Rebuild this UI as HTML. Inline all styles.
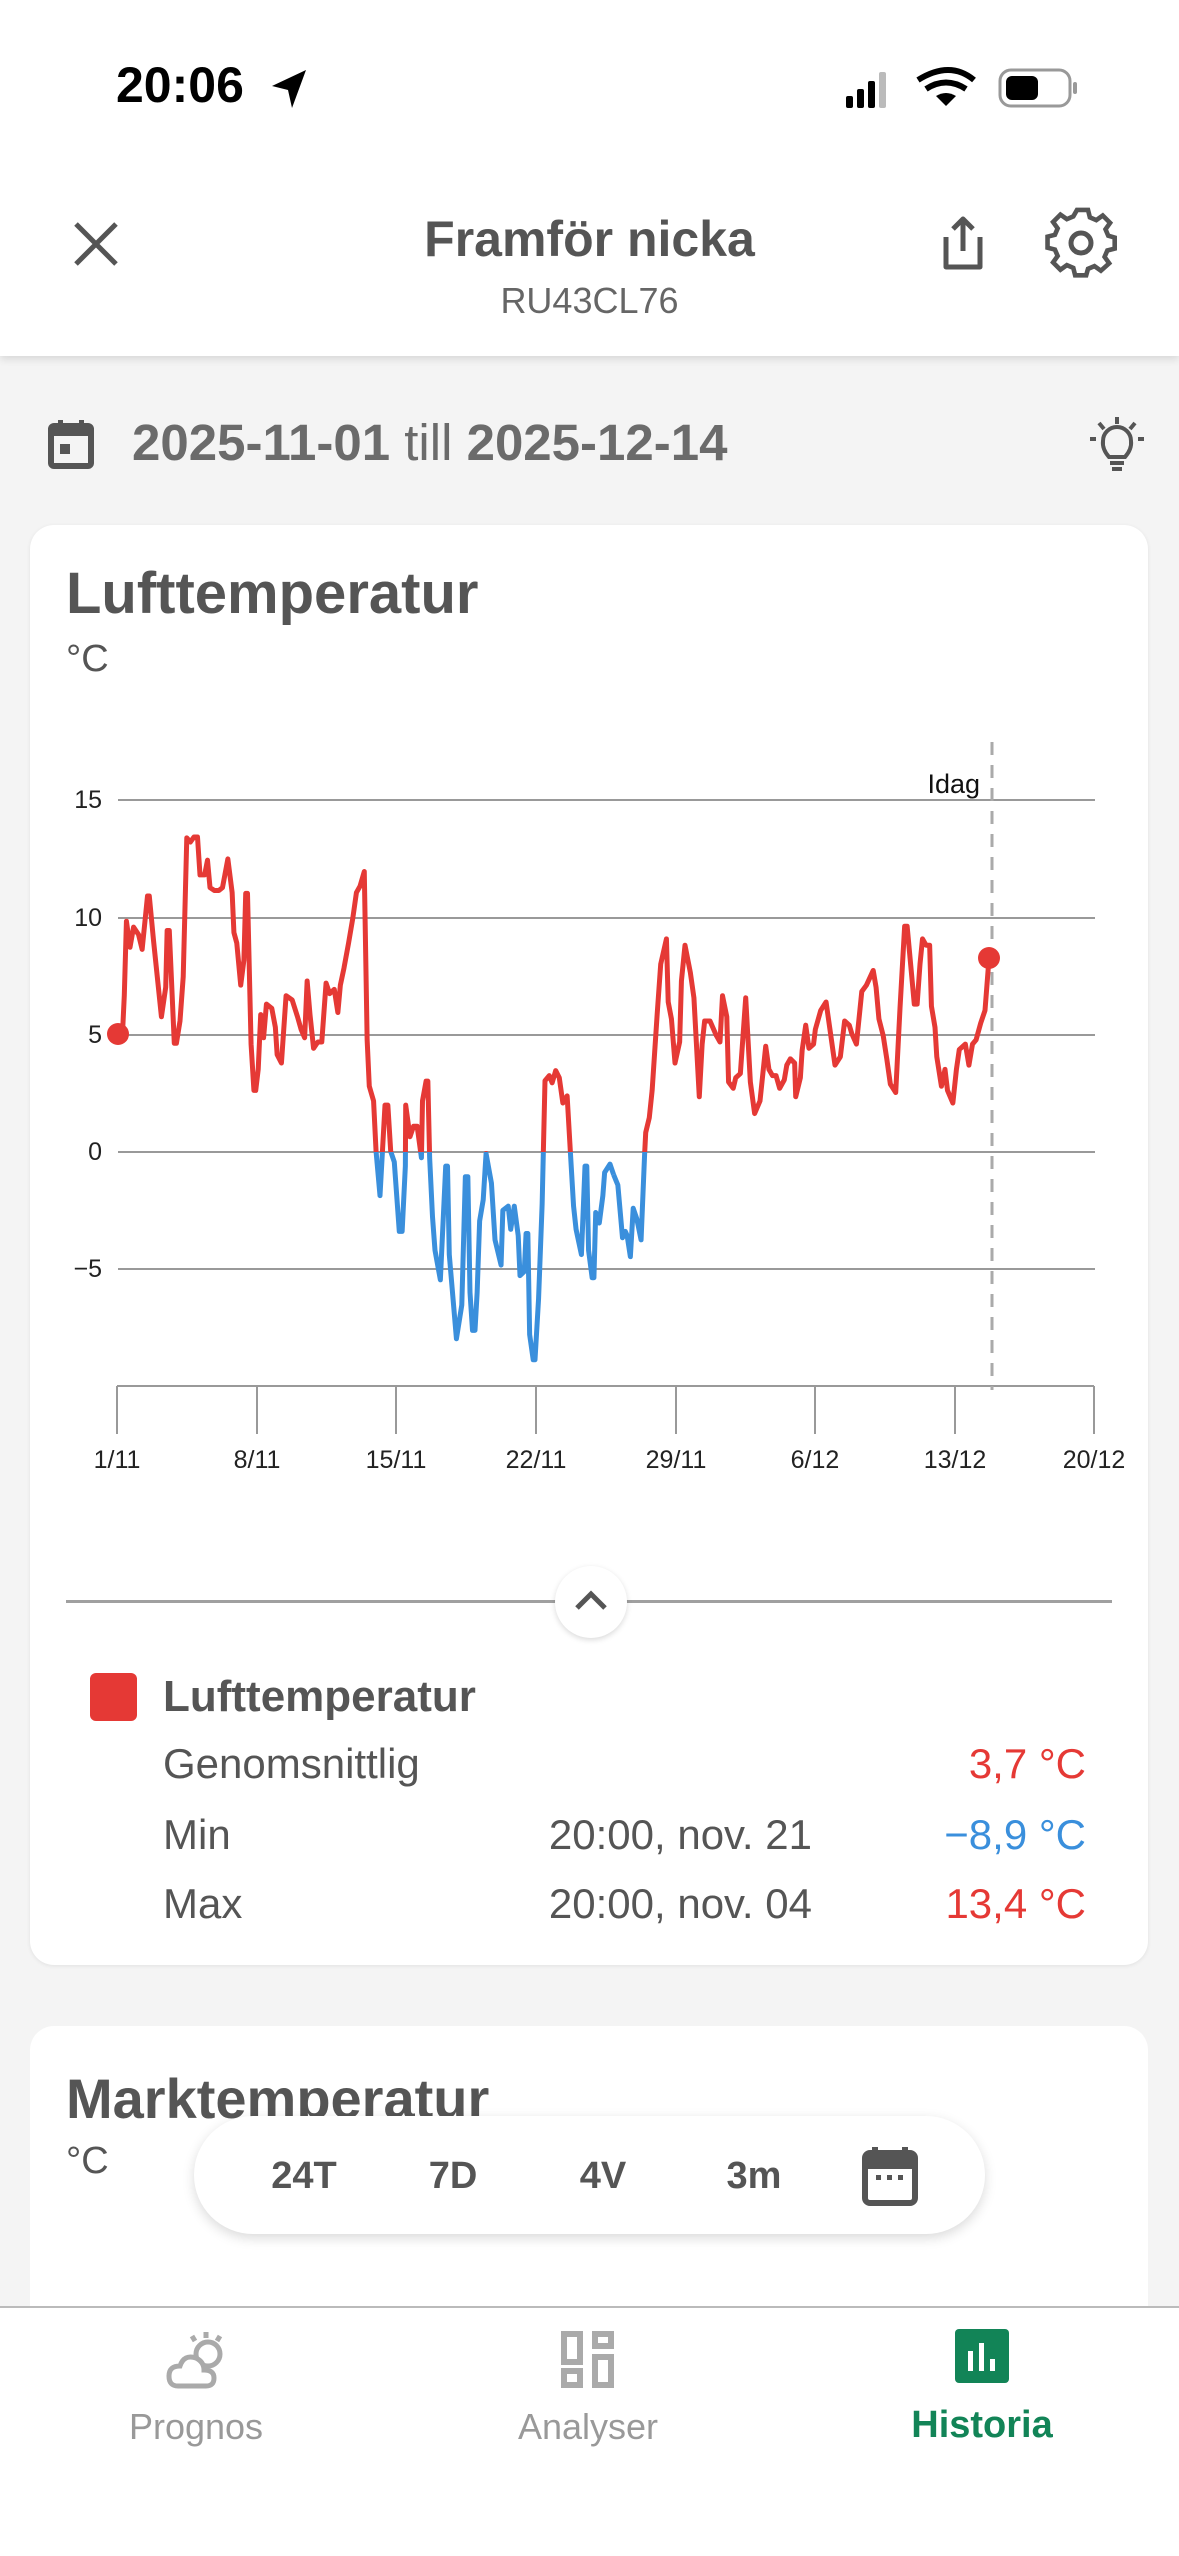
<!DOCTYPE html>
<html><head><meta charset="utf-8"><style>
*{margin:0;padding:0;box-sizing:border-box}
body{width:1179px;height:2556px;background:#f4f4f4;font-family:"Liberation Sans",sans-serif;position:relative;overflow:hidden;color:#555}
.a{position:absolute;white-space:nowrap}
</style></head><body>
<div class="a" style="left:0;top:0;width:1179px;height:356px;background:#fff;box-shadow:0 3px 8px rgba(0,0,0,0.12)"></div>
<div class="a" style="left:116px;top:56px;font-size:50px;font-weight:bold;color:#000">20:06</div>
<svg class="a" style="left:270px;top:68px" width="40" height="42" viewBox="0 0 40 42"><path d="M36 2 L2 18 L18 22 L22 40 Z" fill="#000"/></svg>
<svg class="a" style="left:840px;top:66px" width="250" height="46" viewBox="0 0 250 46">
<rect x="6" y="30" width="7" height="12" rx="2" fill="#000"/><rect x="17" y="23" width="7" height="19" rx="2" fill="#000"/><rect x="28" y="15" width="7" height="27" rx="2" fill="#000"/><rect x="39" y="6" width="7" height="36" rx="2" fill="#bbb"/>
<path d="M78 14 Q110 -6 134 14" stroke="#000" stroke-width="6" fill="none"/><path d="M86 23 Q106 10 126 23" stroke="#000" stroke-width="6" fill="none"/><path d="M106 40 L96 30 Q106 24 116 30 Z" fill="#000"/>
<rect x="160" y="4" width="70" height="36" rx="11" fill="none" stroke="#999" stroke-width="3"/><rect x="166" y="10" width="32" height="24" rx="6" fill="#000"/><rect x="233" y="16" width="4" height="12" rx="2" fill="#999"/></svg>
<svg class="a" style="left:72px;top:220px" width="50" height="50"><path d="M4 4 L44 44 M44 4 L4 44" stroke="#555" stroke-width="5"/></svg>
<div class="a" style="left:0;width:1179px;top:210px;text-align:center;font-size:50px;font-weight:bold;color:#555">Framför nicka</div>
<div class="a" style="left:0;width:1179px;top:280px;text-align:center;font-size:36px;color:#666">RU43CL76</div>
<svg class="a" style="left:936px;top:215px" width="54" height="60"><path d="M10 22 V52 H44 V22 M27 36 V4 M17 14 L27 4 L37 14" stroke="#555" stroke-width="5" fill="none" stroke-linejoin="round"/></svg>
<svg class="a" style="left:1045px;top:207px" width="72" height="72" viewBox="-36 -36 72 72"><g stroke="#555" stroke-width="5" fill="none"><path d="M-6 -31 L6 -31 L8 -23 L15 -20 L22 -25 L30 -17 L25 -10 L28 -3 L35 -1 L35 11 L27 13 L24 20 L29 27 L20 35 L13 30 L6 33 L4 40 L-8 40 L-10 32 L-17 29 L-24 34 L-32 26 L-27 19 L-30 12 L-38 10 L-38 -2 L-30 -4 L-27 -11 L-32 -18 L-24 -26 L-17 -21 L-10 -24 Z" transform="translate(1.5,-4.5) scale(0.92)"/><circle cx="0" cy="0" r="10"/></g></svg>
<svg class="a" style="left:48px;top:418px" width="48" height="52"><rect x="3" y="8" width="40" height="40" rx="3" fill="none" stroke="#555" stroke-width="6"/><rect x="3" y="8" width="40" height="10" fill="#555"/><rect x="10" y="2" width="5" height="10" fill="#555"/><rect x="31" y="2" width="5" height="10" fill="#555"/><rect x="12" y="26" width="10" height="10" fill="#555"/></svg>
<div class="a" style="left:132px;top:413px;font-size:51px;color:#6b6b6b"><b>2025-11-01</b> till <b>2025-12-14</b></div>
<svg class="a" style="left:1085px;top:415px" width="64" height="60"><g stroke="#555" stroke-width="4" fill="none"><path d="M32 2 V9 M14 8 L19 14 M50 8 L45 14 M5 24 H11 M53 24 H59"/><path d="M24 42 Q17 34 18 26 A14 14 0 0 1 46 26 Q47 34 40 42 Z"/><path d="M25 48 H39 M27 54 H37"/></g></svg>

<div class="a" style="left:30px;top:525px;width:1118px;height:1440px;background:#fff;border-radius:24px;box-shadow:0 1px 4px rgba(0,0,0,0.08)"></div>
<div class="a" style="left:66px;top:560px;font-size:58px;font-weight:bold;color:#555">Lufttemperatur</div>
<div class="a" style="left:66px;top:638px;font-size:38px;color:#555">°C</div>

<svg class="a" style="left:0;top:0" width="1179" height="1500">
<g stroke="#999" stroke-width="2">
<line x1="118" y1="800" x2="1095" y2="800"/><line x1="118" y1="918" x2="1095" y2="918"/><line x1="118" y1="1035" x2="1095" y2="1035"/><line x1="118" y1="1152" x2="1095" y2="1152"/><line x1="118" y1="1269" x2="1095" y2="1269"/>
<line x1="117" y1="1386" x2="1094" y2="1386"/>
<line x1="117" y1="1386" x2="117" y2="1434"/><line x1="257" y1="1386" x2="257" y2="1434"/><line x1="396" y1="1386" x2="396" y2="1434"/><line x1="536" y1="1386" x2="536" y2="1434"/><line x1="676" y1="1386" x2="676" y2="1434"/><line x1="815" y1="1386" x2="815" y2="1434"/><line x1="955" y1="1386" x2="955" y2="1434"/><line x1="1094" y1="1386" x2="1094" y2="1434"/>
</g>
<line x1="992" y1="742" x2="992" y2="1390" stroke="#aaa" stroke-width="3" stroke-dasharray="13,10"/>
<g font-size="25" fill="#222" text-anchor="end">
<text x="102" y="808">15</text><text x="102" y="926">10</text><text x="102" y="1043">5</text><text x="102" y="1160">0</text><text x="102" y="1277">−5</text>
</g>
<text x="980" y="793" font-size="27" fill="#111" text-anchor="end">Idag</text>
<g font-size="25" fill="#222" text-anchor="middle">
<text x="117" y="1468">1/11</text><text x="257" y="1468">8/11</text><text x="396" y="1468">15/11</text><text x="536" y="1468">22/11</text><text x="676" y="1468">29/11</text><text x="815" y="1468">6/12</text><text x="955" y="1468">13/12</text><text x="1094" y="1468">20/12</text>
</g>
<defs>
<clipPath id="top"><rect x="0" y="0" width="1179" height="1152"/></clipPath>
<clipPath id="bot"><rect x="0" y="1152" width="1179" height="400"/></clipPath>
<g id="ln" fill="none" stroke-width="5" stroke-linejoin="round">
<polyline vector-effect="non-scaling-stroke" transform="translate(60,720) scale(0.35714,0.42092)" points="162,745 175,745 180,655 186,478 196,540 206,492 220,510 230,545 245,418 250,418 262,525 284,705 296,635 300,500 306,500 320,768 326,768 336,715 345,610 355,280 365,290 375,278 385,278 392,368 405,368 413,333 420,398 432,405 445,405 455,398 470,330 482,410 487,505 495,530 506,630 515,570 520,412 525,412 535,770 543,880 548,880 555,830 562,700 570,755 578,675 593,685 603,730 608,795 620,815 633,655 650,665 665,705 675,735 685,755 692,620 700,700 710,780 722,765 733,765 745,625 755,650 768,640 778,695 785,630 795,590 808,530 820,470 830,410 840,395 852,360 860,760 866,870 878,905 885,1025 896,1130 910,915 918,915 926,1025 936,1050 950,1215 958,1215 967,1060 968,915 980,990 990,965 1000,965 1012,1040 1015,905 1025,858 1030,858 1035,1040 1043,1180 1050,1260 1065,1330 1080,1060 1085,1060 1090,1270 1110,1470 1125,1390 1135,1085 1142,1085 1148,1360 1155,1450 1162,1450 1168,1360 1175,1190 1185,1140 1193,1030 1208,1100 1218,1235 1235,1295 1240,1165 1255,1155 1262,1210 1272,1155 1283,1225 1288,1320 1300,1310 1305,1220 1310,1220 1315,1460 1325,1520 1330,1520 1340,1375 1350,1150 1358,857 1370,845 1378,862 1388,833 1398,850 1408,910 1420,893 1430,1040 1438,1155 1445,1210 1460,1270 1470,1060 1475,1060 1480,1260 1490,1325 1495,1325 1500,1170 1510,1195 1520,1130 1525,1075 1540,1055 1550,1080"/>
<polyline vector-effect="non-scaling-stroke" transform="translate(560,720) scale(0.35714,0.42092)" points="150,1080 162,1105 175,1230 183,1215 188,1225 197,1275 205,1160 215,1185 227,1235 237,1030 240,980 250,945 258,880 265,790 272,700 282,580 298,520 303,670 312,710 322,815 335,765 340,620 350,535 365,600 375,660 382,770 390,895 398,770 405,715 420,715 438,750 448,765 455,655 467,705 472,860 485,875 492,850 505,840 520,660 533,860 545,935 560,905 568,840 576,775 585,830 595,845 605,845 615,875 628,855 635,820 645,805 657,815 660,895 673,850 678,785 688,725 697,780 710,770 715,735 730,690 745,670 755,730 770,820 785,800 797,715 810,725 817,745 830,770 845,645 858,630 877,595 885,635 893,710 905,750 915,805 925,865 940,885 952,685 965,490 972,490 985,610 992,675 1000,675 1008,580 1015,520 1025,535 1035,535 1040,680 1050,730 1055,800 1068,870 1078,830 1085,880 1100,910 1110,830 1118,783 1135,770 1145,820 1155,770 1165,760 1178,720 1190,690 1200,580"/>
</g>
</defs>
<use href="#ln" stroke="#e53935" clip-path="url(#top)"/>
<use href="#ln" stroke="#3a8fdc" clip-path="url(#bot)"/>
<circle cx="118" cy="1034" r="11" fill="#e53935"/>
<circle cx="989" cy="958" r="11" fill="#e53935"/>
</svg>

<div class="a" style="left:66px;top:1600px;width:1046px;height:3px;background:#a0a0a0"></div>
<div class="a" style="left:555px;top:1566px;width:72px;height:72px;border-radius:50%;background:#fff;box-shadow:0 2px 6px rgba(0,0,0,0.15)"></div>
<svg class="a" style="left:573px;top:1588px" width="36" height="24"><path d="M4 20 L18 6 L32 20" stroke="#555" stroke-width="5" fill="none"/></svg>
<div class="a" style="left:90px;top:1673px;width:47px;height:48px;border-radius:6px;background:#e53935"></div>
<div class="a" style="left:163px;top:1672px;font-size:44px;font-weight:bold;color:#555">Lufttemperatur</div>
<div class="a" style="left:163px;top:1740px;font-size:42px;color:#555">Genomsnittlig</div>
<div class="a" style="left:163px;top:1811px;font-size:42px;color:#555">Min</div>
<div class="a" style="left:163px;top:1880px;font-size:42px;color:#555">Max</div>
<div class="a" style="right:367px;top:1811px;font-size:42px;color:#555">20:00, nov. 21</div>
<div class="a" style="right:367px;top:1880px;font-size:42px;color:#555">20:00, nov. 04</div>
<div class="a" style="right:93px;top:1740px;font-size:42px;color:#e53935">3,7 °C</div>
<div class="a" style="right:93px;top:1811px;font-size:42px;color:#3a8fdc">−8,9 °C</div>
<div class="a" style="right:93px;top:1880px;font-size:42px;color:#e53935">13,4 °C</div>

<div class="a" style="left:30px;top:2026px;width:1118px;height:400px;background:#fff;border-radius:24px"></div>
<div class="a" style="left:66px;top:2066px;font-size:56px;font-weight:bold;color:#555">Marktemperatur</div>
<div class="a" style="left:66px;top:2140px;font-size:38px;color:#555">°C</div>
<div class="a" style="left:194px;top:2116px;width:791px;height:118px;border-radius:59px;background:#fff;box-shadow:0 4px 12px rgba(0,0,0,0.15)"></div>
<div class="a" style="left:264px;top:2155px;font-size:38px;font-weight:bold;color:#555;width:80px;text-align:center">24T</div>
<div class="a" style="left:413px;top:2155px;font-size:38px;font-weight:bold;color:#555;width:80px;text-align:center">7D</div>
<div class="a" style="left:563px;top:2155px;font-size:38px;font-weight:bold;color:#555;width:80px;text-align:center">4V</div>
<div class="a" style="left:714px;top:2155px;font-size:38px;font-weight:bold;color:#555;width:80px;text-align:center">3m</div>
<svg class="a" style="left:862px;top:2145px" width="56" height="62"><rect x="3" y="8" width="50" height="50" rx="5" fill="none" stroke="#555" stroke-width="6"/><rect x="3" y="8" width="50" height="16" fill="#555"/><rect x="10" y="2" width="6" height="10" fill="#555"/><rect x="40" y="2" width="6" height="10" fill="#555"/><rect x="14" y="30" width="5" height="5" fill="#555"/><rect x="25" y="30" width="5" height="5" fill="#555"/><rect x="36" y="30" width="5" height="5" fill="#555"/></svg>

<div class="a" style="left:0;top:2306px;width:1179px;height:250px;background:#fff;border-top:2px solid #bbb"></div>
<svg class="a" style="left:166px;top:2330px" width="64" height="60"><g stroke="#aaa" stroke-width="5" fill="none"><path d="M40 2 V8 M26 6 L29 11 M54 6 L51 11"/><circle cx="42" cy="24" r="12"/><path d="M12 56 Q3 56 3 46 Q3 36 14 36 Q18 24 30 28 Q38 32 38 40 Q48 40 48 48 Q48 56 40 56 Z" fill="#fff"/></g></svg>
<svg class="a" style="left:561px;top:2331px" width="54" height="58"><g fill="none" stroke="#aaa" stroke-width="6"><rect x="3" y="3" width="16" height="28"/><rect x="34" y="3" width="16" height="12"/><rect x="3" y="40" width="16" height="14"/><rect x="34" y="26" width="16" height="28"/></g></svg>
<svg class="a" style="left:955px;top:2329px" width="54" height="56"><rect x="0" y="0" width="54" height="54" rx="4" fill="#128457"/><rect x="13" y="22" width="5" height="20" fill="#fff"/><rect x="24" y="14" width="5" height="28" fill="#fff"/><rect x="35" y="30" width="5" height="12" fill="#fff"/></svg>
<div class="a" style="left:96px;width:200px;top:2406px;text-align:center;font-size:36px;color:#999">Prognos</div>
<div class="a" style="left:488px;width:200px;top:2406px;text-align:center;font-size:36px;color:#999">Analyser</div>
<div class="a" style="left:882px;width:200px;top:2404px;text-align:center;font-size:38px;font-weight:bold;color:#128457">Historia</div>
</body></html>
